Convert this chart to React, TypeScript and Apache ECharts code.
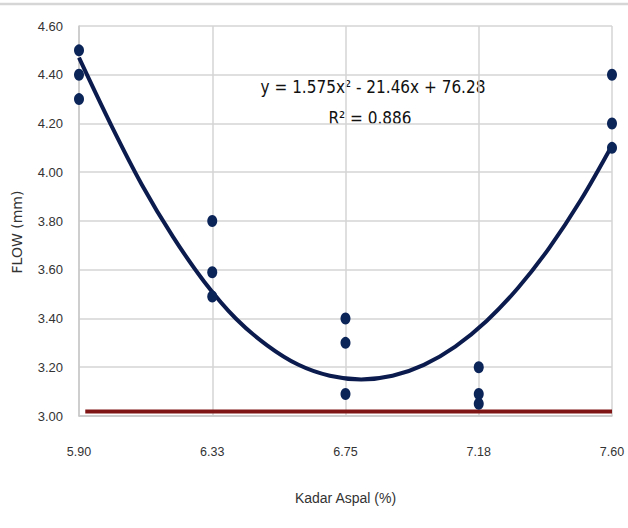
import React, { useEffect, useRef } from "react";
import * as echarts from "echarts";

// Tick labels of the x axis (Kadar Aspal %)
const xTickLabels = ["5.90", "6.33", "6.75", "7.18", "7.60"];
const xTickValues = [5.9, 6.325, 6.75, 7.175, 7.6];

// Observed FLOW (mm) points
const pointX = [5.9, 5.9, 5.9, 6.325, 6.325, 6.325, 6.75, 6.75, 6.75, 7.175, 7.175, 7.175, 7.6, 7.6, 7.6];
const pointY = [4.5, 4.4, 4.3, 3.8, 3.59, 3.49, 3.4, 3.3, 3.09, 3.2, 3.09, 3.05, 4.4, 4.2, 4.1];

// Polynomial trend line
const trendX = [5.9, 6.0, 6.1, 6.2, 6.3, 6.4, 6.5, 6.6, 6.7, 6.8, 6.9, 7.0, 7.1, 7.2, 7.3, 7.4, 7.5, 7.6];
const trendY = [4.47, 4.2, 3.95, 3.735, 3.55, 3.4, 3.29, 3.21, 3.165, 3.15, 3.165, 3.21, 3.285, 3.39, 3.525, 3.69, 3.885, 4.11];

// Reference line
const refX = [5.92, 7.6];
const refY = [3.018, 3.018];

const equationText = "y = 1.575x² - 21.46x + 76.28";
const r2Text = "R² = 0.886";

const X0 = xTickValues[0];
const XSTEP = 0.425;
const toAxis = (v: number) => (v - X0) / XSTEP;

export default function App() {
  const ref = useRef<HTMLDivElement>(null);
  useEffect(() => {
    if (!ref.current) return;
    document.body.style.margin = "0";
    document.body.style.overflow = "hidden";
    const chart = echarts.init(ref.current, null, { renderer: "svg" });
    const font = "'Liberation Sans', Arial, sans-serif";
    const eqFont = "'DejaVu Sans Condensed', 'Liberation Sans Narrow', sans-serif";
    chart.setOption({
      animation: false,
      backgroundColor: "#ffffff",
      grid: { left: 79, right: 16, top: 26, bottom: 112, containLabel: false },
      xAxis: {
        type: "value",
        min: 0,
        max: 4,
        interval: 1,
        name: "Kadar Aspal (%)",
        nameLocation: "middle",
        nameGap: 75,
        nameTextStyle: { fontFamily: font, fontSize: 14, color: "#333" },
        axisLine: { show: true, lineStyle: { color: "#c8c8c8", width: 1.5 } },
        axisTick: { show: false },
        axisLabel: {
          margin: 29,
          fontFamily: font,
          fontSize: 12.5,
          color: "#333",
          formatter: (v: number) => xTickLabels[Math.round(v)] ?? "",
        },
        splitLine: { show: true, lineStyle: { color: "#d4d4d4", width: 1.5 } },
      },
      yAxis: {
        type: "value",
        min: 3.0,
        max: 4.6,
        interval: 0.2,
        axisLine: { show: true, lineStyle: { color: "#c8c8c8", width: 1.5 } },
        axisTick: { show: false },
        axisLabel: {
          margin: 16,
          fontFamily: font,
          fontSize: 13,
          color: "#333",
          formatter: (v: number) => v.toFixed(2),
        },
        splitLine: { show: true, lineStyle: { color: "#d4d4d4", width: 1.5 } },
      },
      graphic: [
        {
          type: "line",
          shape: { x1: 0, y1: 4, x2: 628, y2: 4 },
          style: { stroke: "#d6d6d6", lineWidth: 2.5 },
        },
        {
          type: "text",
          x: 17,
          y: 232,
          rotation: Math.PI / 2,
          style: {
            text: "FLOW (mm)",
            fontFamily: "'DejaVu Sans', sans-serif",
            fontSize: 14,
            fill: "#333",
            align: "center",
            verticalAlign: "middle",
          },
        },
        {
          type: "text",
          x: 373,
          y: 87,
          style: {
            text: equationText,
            fontFamily: eqFont,
            fontSize: 17,
            fill: "#111",
            align: "center",
            verticalAlign: "middle",
          },
        },
        {
          type: "text",
          x: 370,
          y: 118,
          style: {
            text: r2Text,
            fontFamily: eqFont,
            fontSize: 17,
            fill: "#111",
            align: "center",
            verticalAlign: "middle",
          },
        },
      ],
      series: [
        {
          type: "line",
          data: refX.map((x, i) => [toAxis(x), refY[i]]),
          symbol: "none",
          lineStyle: { color: "#801515", width: 4 },
          z: 2,
        },
        {
          type: "line",
          data: trendX.map((x, i) => [toAxis(x), trendY[i]]),
          symbol: "none",
          smooth: 0.35,
          lineStyle: { color: "#0b1b4d", width: 4 },
          z: 3,
        },
        {
          type: "scatter",
          data: pointX.map((x, i) => [toAxis(x), pointY[i]]),
          symbol: "circle",
          symbolSize: [10, 12],
          itemStyle: { color: "#0c2559", opacity: 1 },
          z: 4,
        },
      ],
    });
    return () => chart.dispose();
  }, []);
  return <div ref={ref} style={{ width: 628, height: 528 }} />;
}
